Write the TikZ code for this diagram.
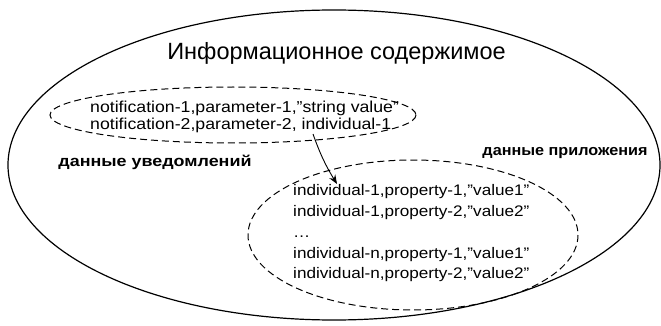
\documentclass[tikz,border=0pt]{standalone}
\usepackage{fontspec}
\setmainfont{Liberation Sans}
\newfontfamily\widefont[FakeStretch=1.12]{Liberation Sans}
\newfontfamily\wideboldfont[FakeStretch=1.08]{Liberation Sans Bold}
\newfontfamily\widerboldfont[FakeStretch=1.17]{Liberation Sans Bold}
\usetikzlibrary{arrows.meta,shapes.geometric}
\begin{document}
\begin{tikzpicture}[x=1pt,y=-1pt,
  outerell/.style={draw=black,line width=1.2pt},
  dashell/.style={draw=black,line width=1pt,dash pattern=on 7pt off 4pt},
  rec/.style={inner sep=0pt,anchor=base west,font=\widefont\fontsize{15.3}{18}\selectfont},
  recn/.style={rec,font=\widefont\fontsize{15.8}{18}\selectfont},
  lbl/.style={inner sep=0pt,anchor=base,font=\wideboldfont\fontsize{15}{18}\selectfont},
  ttl/.style={inner sep=0pt,anchor=base,font=\fontsize{23.5}{28}\selectfont},
  conn/.style={-{Stealth[length=9pt,width=7pt]},line width=0.9pt}]
\useasboundingbox (0,0) rectangle (661,326);
% outer ellipse
\draw[outerell] (334,165) ellipse [x radius=326, y radius=155];
\node[ttl] (title) at (336.5,60) {Информационное содержимое};
% notification data
\draw[dashell] (233,115) ellipse [x radius=183, y radius=28];
\node[recn] (n1) at (90,113) {notification-1,parameter-1,”string value”};
\node[recn] (n2) at (90,130) {notification-2,parameter-2, individual-1};
\node[lbl,font=\widerboldfont\fontsize{15.3}{18}\selectfont] (lnot) at (155,166) {данные уведомлений};
% application data
\draw[dashell] (413,235) ellipse [x radius=165, y radius=75];
\node[lbl] (lapp) at (565,155) {данные приложения};
\node[rec] (a1) at (293,195) {individual-1,property-1,”value1”};
\node[rec] (a2) at (293,216) {individual-1,property-2,”value2”};
\node[rec] (a3) at (293,237) {…};
\node[rec] (a4) at (293,258) {individual-n,property-1,”value1”};
\node[rec] (a5) at (293,278) {individual-n,property-2,”value2”};
% arrow
\coordinate (as) at (313,134);
\coordinate (ae) at (337,184);
\draw[conn] (as) to[bend right=6] (ae);
\end{tikzpicture}
\end{document}
